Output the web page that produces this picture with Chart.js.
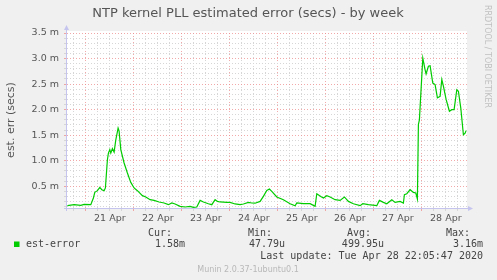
<!DOCTYPE html>
<html><head><meta charset="utf-8">
<script src="https://cdn.jsdelivr.net/npm/chart.js@4"></script>
<style>html,body{margin:0;padding:0;background:#f0f0f0;} #wrap{width:497px;height:280px;}</style>
</head><body><div id="wrap"><canvas id="c" width="497" height="280"></canvas></div>
<script>
// hours since 20 Apr 2020 00:00
const hours = [14.8,18.15,21.5,23.15,26.5,27.8,28.5,29.8,31.0,32.0,33.15,33.8,34.8,35.3,36.0,36.5,37.3,38.15,39.0,40.15,40.65,41.5,43.15,44.8,46.5,48.15,49.8,52.3,54.0,56.15,58.15,60.65,63.15,
  65.3,67.0,68.65,71.15,73.65,76.15,77.8,79.5,81.15,82.8,85.3,87.0,88.65,89.8,91.15,94.5,96.15,98.65,101.15,102.8,105.3,107.0,108.65,111.15,112.8,114.5,115.8,117.0,119.5,122.8,126.15,128.65,129.5,132.8,136.15,138.65,139.5,141.5,142.8,144.5,146.15,148.65,151.15,153.3,155.3,157.8,161.15,162.5,165.3,169.5,170.8,172.8,174.5,177.0,178.65,181.15,182.8,183.3,184.5,186.15,187.8,189.0,189.8,190.3,190.8,192.5,193.65,194.15,195.3,196.15,197.5,198.65,199.8,201.15,202.0,202.8,204.15,205.8,207.0,208.15,209.5,210.3,211.5,212.8,213.65,214.15];
// est-error in milliseconds
const estErrorMs = [0.121,0.141,0.127,0.147,0.141,0.272,0.382,0.415,0.479,0.434,0.415,0.468,1.02,1.15,1.22,1.15,1.24,1.17,1.41,1.64,1.58,1.22,0.957,0.761,0.577,0.468,0.415,0.317,0.292,0.239,0.225,0.194,0.174,
  0.141,0.174,0.155,0.108,0.096,0.108,0.088,0.096,0.225,0.194,0.160,0.141,0.239,0.205,0.194,0.186,0.186,0.155,0.141,0.155,0.186,0.174,0.170,0.205,0.303,0.421,0.448,0.401,0.292,0.239,0.160,0.121,0.174,0.160,0.160,0.108,0.356,0.303,0.272,0.317,0.292,0.239,0.225,0.292,0.205,0.160,0.121,0.160,0.141,0.121,0.225,0.186,0.160,0.239,0.186,0.205,0.174,0.337,0.356,0.434,0.382,0.370,0.252,1.71,1.80,3.01,2.78,2.70,2.85,2.86,2.52,2.49,2.23,2.26,2.59,2.46,2.20,1.97,2.00,2.00,2.39,2.36,2.03,1.51,1.54,1.59];
const dayLabels = ['21 Apr','22 Apr','23 Apr','24 Apr','25 Apr','26 Apr','27 Apr','28 Apr'];
const yMajorTicks = [0.5,1.0,1.5,2.0,2.5,3.0,3.5];
const statHeaders = ['Cur:','Min:','Avg:','Max:'];
const statValues = ['1.58m','47.79u','499.95u','3.16m'];
const seriesName = 'est-error';
const lastUpdate = 'Last update: Tue Apr 28 22:05:47 2020';

const RED = 'rgba(236,140,140,0.75)';
const GREY = '#d6d6d6';
const AXIS = '#c4c4ee';

const decor = {
  id: 'decor',
  beforeDraw(chart) {
    const {ctx, chartArea: a} = chart;
    ctx.save();
    ctx.fillStyle = '#f0f0f0';
    ctx.fillRect(0, 0, chart.width, chart.height);
    ctx.fillStyle = '#ffffff';
    ctx.fillRect(a.left, a.top - 2, a.right - a.left, a.bottom - a.top + 2);
    ctx.restore();
  },
  afterDraw(chart) {
    const {ctx, chartArea: a} = chart;
    ctx.save();
    // axes
    ctx.strokeStyle = AXIS; ctx.fillStyle = AXIS; ctx.lineWidth = 1;
    ctx.beginPath();
    ctx.moveTo(a.left - 0.5, a.bottom + 3); ctx.lineTo(a.left - 0.5, a.top - 4);
    ctx.moveTo(a.left - 3, a.bottom + 0.5); ctx.lineTo(a.right + 2, a.bottom + 0.5);
    ctx.stroke();
    ctx.beginPath();
    ctx.moveTo(a.left - 3, a.top - 3); ctx.lineTo(a.left - 0.5, a.top - 8); ctx.lineTo(a.left + 2, a.top - 3); ctx.closePath(); ctx.fill();
    ctx.beginPath();
    ctx.moveTo(a.right + 1, a.bottom - 2); ctx.lineTo(a.right + 6, a.bottom + 0.5); ctx.lineTo(a.right + 1, a.bottom + 3); ctx.closePath(); ctx.fill();
    // title
    ctx.fillStyle = '#555';
    ctx.font = '13px "DejaVu Sans"';
    ctx.textAlign = 'center'; ctx.textBaseline = 'middle';
    ctx.fillText('NTP kernel PLL estimated error (secs) - by week', 248, 13.5);
    // y title
    ctx.save();
    ctx.translate(11, 120);
    ctx.rotate(-Math.PI / 2);
    ctx.font = '11px "DejaVu Sans"';
    ctx.fillText('est. err (secs)', 0, 0);
    ctx.restore();
    // right vertical credit
    ctx.save();
    ctx.translate(487.5, 5);
    ctx.rotate(Math.PI / 2);
    ctx.fillStyle = '#c0c0c0';
    ctx.font = '8px "DejaVu Sans"';
    ctx.textAlign = 'left';
    ctx.fillText('RRDTOOL / TOBI OETIKER', 0, 0);
    ctx.restore();
    // legend
    ctx.fillStyle = '#00cc00';
    ctx.fillRect(14, 241.5, 5.5, 5.5);
    ctx.fillStyle = '#444';
    ctx.font = '10px "DejaVu Sans Mono"';
    ctx.textAlign = 'left';
    ctx.fillText(seriesName, 26, 244.7);
    ctx.textAlign = 'right';
    const hdrRight = [172, 272, 371, 470];
    const valRight = [185, 285, 384, 483];
    statHeaders.forEach((h, i) => ctx.fillText(h, hdrRight[i], 233.3));
    statValues.forEach((v, i) => ctx.fillText(v, valRight[i], 244.7));
    ctx.fillText(lastUpdate, 483, 256.7);
    ctx.textAlign = 'center';
    ctx.fillStyle = '#b8b8b8';
    ctx.font = '8px "DejaVu Sans"';
    ctx.fillText('Munin 2.0.37-1ubuntu0.1', 248, 269.5);
    ctx.restore();
  }
};

new Chart(document.getElementById('c'), {
  type: 'line',
  data: {
    datasets: [{
      label: seriesName,
      data: hours.map((h, i) => ({x: h, y: estErrorMs[i]})),
      borderColor: '#00cc00',
      borderWidth: 1.2,
      pointRadius: 0,
      tension: 0,
      fill: false
    }]
  },
  options: {
    responsive: false,
    animation: false,
    events: [],
    layout: {padding: {left: 0, top: 33, right: 30, bottom: 52}},
    plugins: {legend: {display: false}, title: {display: false}, tooltip: {enabled: false}},
    scales: {
      x: {
        type: 'linear', min: 14.6, max: 214.6,
        afterFit: s => { s.height = 20; },
        afterBuildTicks: s => {
          const t = [];
          for (let h = 18; h <= 214; h += 6) t.push({value: h});
          s.ticks = t;
        },
        ticks: {
          autoSkip: false, maxRotation: 0, padding: 2,
          color: '#555', font: {family: 'DejaVu Sans', size: 9.5},
          callback: v => (v % 24 === 12 ? dayLabels[(v - 36) / 24] || '' : '')
        },
        grid: {
          color: c => (c.tick && c.tick.value % 24 === 0 ? RED : GREY),
          lineWidth: 1, tickLength: 3, drawTicks: true
        },
        border: {display: false, dash: [1, 2]}
      },
      y: {
        min: 0.076, max: 3.5,
        afterFit: s => { s.width = 67; },
        afterBuildTicks: s => {
          const t = [];
          for (let k = 1; k <= 35; k++) t.push({value: k / 10});
          s.ticks = t;
        },
        ticks: {
          autoSkip: false, padding: 5,
          color: '#555', font: {family: 'DejaVu Sans', size: 9.5},
          callback: v => (yMajorTicks.some(m => Math.abs(m - v) < 1e-6) ? v.toFixed(1) + ' m' : '')
        },
        grid: {
          color: c => (c.tick && Math.round(c.tick.value * 10) % 5 === 0 ? RED : GREY),
          lineWidth: 1, tickLength: 3, drawTicks: true
        },
        border: {display: false, dash: [1, 2]}
      }
    }
  },
  plugins: [decor]
});
</script>
</body></html>
